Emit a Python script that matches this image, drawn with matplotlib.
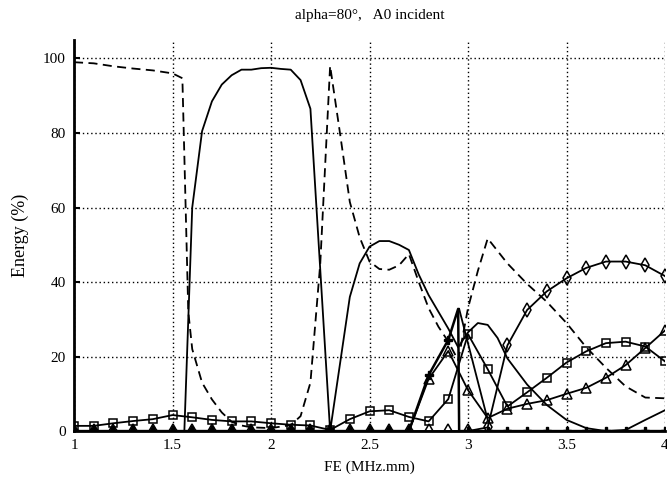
import matplotlib
matplotlib.use("Agg")
import matplotlib.pyplot as plt

plt.rcParams['font.family'] = ['Liberation Serif', 'DejaVu Serif']

# valeurs (FE en MHz.mm, energie en %)
fe = [1.0, 1.1, 1.2, 1.3, 1.4, 1.5, 1.6, 1.7, 1.8, 1.9, 2.0,
      2.1, 2.2, 2.3, 2.4, 2.5, 2.6, 2.7, 2.8, 2.9, 3.0,
      3.1, 3.2, 3.3, 3.4, 3.5, 3.6, 3.7, 3.8, 3.9, 4.0]

squares = [1.4, 1.4, 2.1, 2.7, 3.2, 4.3, 3.7, 3.0, 2.6, 2.6, 2.1,
           1.7, 1.5, 0.3, 3.2, 5.3, 5.6, 3.8, 2.6, 8.6, 26.0,
           16.6, 6.6, 10.4, 14.3, 18.4, 21.4, 23.6, 24.0, 22.7, 18.7]

triangles = [0, 0, 0, 0, 0, 0, 0, 0, 0, 0, 0,
             0, 0, 0, 0, 0, 0, 0, 14.0, 21.5, 11.0,
             3.5, 6.0, 7.3, 8.3, 10.0, 11.6, 14.3, 17.7, 22.3, 27.0]

diamonds = [0, 0, 0, 0, 0, 0, 0, 0, 0, 0, 0,
            0, 0, 0, 0, 0, 0, 0, 0, 0, 0,
            1.0, 23.0, 32.5, 37.5, 41.0, 43.8, 45.5, 45.5, 44.5, 41.6]

# courbe a etoiles (pic tres etroit vers 2.95)
fe_star = [1.0, 1.1, 1.2, 1.3, 1.4, 1.5, 1.6, 1.7, 1.8, 1.9, 2.0,
           2.1, 2.2, 2.3, 2.4, 2.5, 2.6, 2.7, 2.8, 2.9, 2.95, 2.955, 3.0,
           3.1, 3.2, 3.3, 3.4, 3.5, 3.6, 3.7, 3.8, 3.9, 4.0]
stars = [0, 0, 0, 0, 0, 0, 0, 0, 0, 0, 0,
         0, 0, 0, 0, 0, 0, 0, 15.0, 24.5, 32.8, 0, 0,
         0, 0, 0, 0, 0, 0, 0, 0, 0, 0]

fe_peak = [2.955, 3.1]
peak = [32.8, 3.0]

# courbe continue (sans symbole)
fe_solid = [1.0, 1.5, 1.56, 1.6, 1.65, 1.7, 1.75, 1.8, 1.85, 1.9, 1.95, 2.0,
            2.05, 2.1, 2.15, 2.2, 2.3, 2.35, 2.4, 2.45, 2.5, 2.55, 2.6,
            2.65, 2.7, 2.75, 2.8, 2.85, 2.9, 2.95, 3.0, 3.05, 3.1, 3.15,
            3.2, 3.3, 3.4, 3.5, 3.6, 3.7, 3.8, 3.9, 4.0]
solid = [0, 0, 0, 60.0, 80.5, 88.5, 93.0, 95.5, 97.0, 97.0, 97.4, 97.5,
         97.2, 97.0, 94.2, 86.5, 0, 18.0, 36.0, 45.0, 49.5, 51.0, 51.0,
         50.0, 48.6, 42.0, 36.5, 32.0, 27.5, 22.5, 26.5, 29.0, 28.5, 25.0,
         19.5, 12.5, 7.0, 3.0, 0.8, 0, 0.3, 3.0, 5.6]

# courbe en tirets
fe_dash = [1.0, 1.1, 1.2, 1.3, 1.4, 1.5, 1.55, 1.58, 1.6, 1.65, 1.7, 1.75,
           1.8, 1.85, 1.9, 2.0, 2.1, 2.15, 2.2, 2.25, 2.3, 2.35, 2.4, 2.45,
           2.5, 2.55, 2.6, 2.65, 2.7, 2.75, 2.8, 2.85, 2.9, 2.95, 3.0, 3.05,
           3.1, 3.2, 3.3, 3.4, 3.5, 3.6, 3.7, 3.8, 3.9, 4.0]
dashed = [99.0, 98.7, 97.9, 97.3, 96.8, 96.0, 94.7, 32.0, 22.0, 13.0, 8.5, 5.0,
          2.5, 1.5, 1.0, 0.8, 1.6, 4.0, 13.0, 45.0, 98.0, 80.0, 61.5, 52.0,
          45.5, 43.5, 43.3, 44.5, 47.5, 40.0, 33.0, 28.0, 24.0, 19.0, 33.0, 43.0,
          51.7, 45.0, 39.5, 34.7, 29.0, 22.5, 17.0, 12.0, 9.0, 8.8]

fig = plt.figure(figsize=(6.67, 4.86), dpi=100)
ax = fig.add_axes([0.111, 0.113, 0.886, 0.805])

ax.plot(fe_dash, dashed, color='black', lw=1.3, ls=(0, (5, 3)))
ax.plot(fe_solid, solid, color='black', lw=1.3)
ax.plot(fe_peak, peak, color='black', lw=1.3)
ax.plot(fe, squares, color='black', lw=1.3, marker='s', ms=6,
        mfc='none', mec='black', mew=1.1)
ax.plot(fe, triangles, color='black', lw=1.3, marker='^', ms=6.5,
        mfc='none', mec='black', mew=1.1)
ax.plot(fe, diamonds, color='black', lw=1.3, marker='d', ms=7,
        mfc='none', mec='black', mew=1.1)
ax.plot(fe_star, stars, color='black', lw=1.8, marker='P', ms=6,
        mfc='black', mec='black', markevery=[i for i, x in enumerate(fe_star) if x in fe])

ax.set_xlim(1, 4)
ax.set_ylim(0, 105)
ax.set_xticks([1, 1.5, 2, 2.5, 3, 3.5, 4])
ax.set_xticklabels(['1', '1.5', '2', '2.5', '3', '3.5', '4'])
ax.set_yticks([0, 20, 40, 60, 80, 100])

ax.grid(True, color='black', ls=(0, (1, 2)), lw=1.0)
for s in ['top', 'right']:
    ax.spines[s].set_visible(False)
ax.spines['left'].set_linewidth(2)
ax.spines['bottom'].set_linewidth(2)
ax.tick_params(axis='y', direction='in', length=4, width=1.5, labelsize=11, pad=6)
ax.tick_params(axis='x', length=0, labelsize=11, pad=6)

ax.set_xlabel('FE (MHz.mm)', fontsize=11, labelpad=6)
ax.set_ylabel('Energy (%)', fontsize=13, labelpad=10)
fig.text(0.555, 0.968, 'alpha=80°,   A0 incident', ha='center', va='center', fontsize=11)

plt.savefig('out.png', dpi=100)
